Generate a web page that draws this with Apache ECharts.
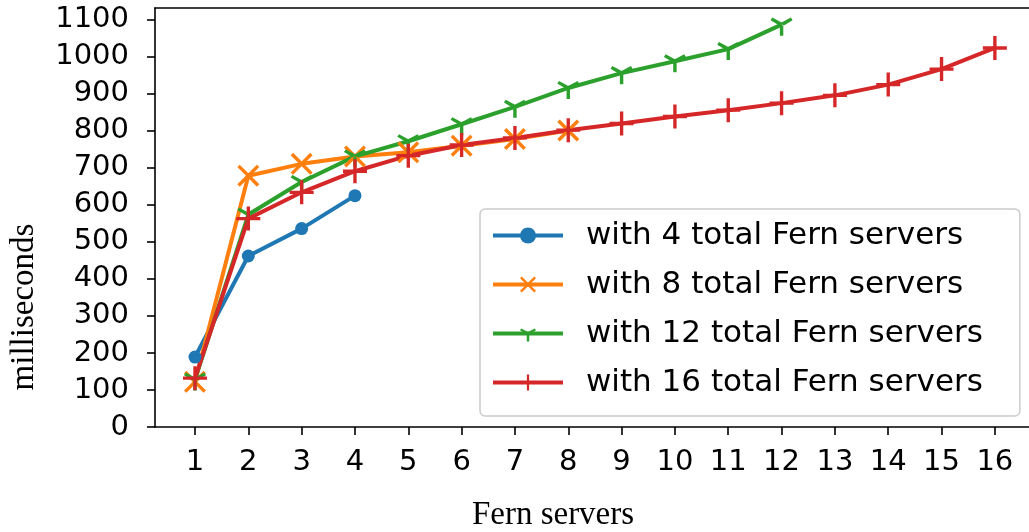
<!DOCTYPE html>
<html>
<head>
<meta charset="utf-8">
<title>Fern servers latency</title>
<script src="https://cdn.jsdelivr.net/npm/echarts@6.0.0/dist/echarts.min.js"></script>
<style>
	html, body { margin: 0; padding: 0; background: #fff; }
	#mainChart { width: 1029px; height: 532px; }
</style>
</head>
<body>
<div id="mainChart"></div>
<script>
// x 轴: Fern 服务器数量
var xTicks = [1, 2, 3, 4, 5, 6, 7, 8, 9, 10, 11, 12, 13, 14, 15, 16];
// y 轴刻度
var yTicks = [0, 100, 200, 300, 400, 500, 600, 700, 800, 900, 1000, 1100];

// 各系列的毫秒值
var with4 = [189, 462, 536, 625];
var with8 = [122, 679, 711, 731, 742, 760, 778, 801];
var with12 = [128, 574, 662, 731, 772, 818, 865, 916, 956, 988, 1021, 1087];
var with16 = [132, 563, 634, 691, 733, 762, 781, 802, 820, 839, 856, 875, 896, 925, 967, 1024];

var seriesNames = [
	'with 4 total Fern servers',
	'with 8 total Fern servers',
	'with 12 total Fern servers',
	'with 16 total Fern servers'
];

// 标记形状
var SYM_X = 'path://M0,11L11,0L100,89L89,100ZM89,0L100,11L11,100L0,89Z';
var SYM_PLUS = 'path://M43,0H57V43H100V57H57V100H43V57H0V43H43Z';
// tri_down, 顶部加一个极小三角使中心对齐
var SYM_TRI = 'path://M50,0L50.2,0L50,0.2Z' +
	'M43,50L57,50L57,100L43,100Z' +
	'M56,44L12,18L5,30L44,56Z' +
	'M44,44L56,56L95,30L88,18Z';

function toPairs(values) {
	var out = [];
	for (var i = 0; i < values.length; i++) {
		out.push([xTicks[i], values[i]]);
	}
	return out;
}

function makeSeries(name, values, color, symbol, size) {
	return {
		name: name,
		type: 'line',
		data: toPairs(values),
		symbol: symbol,
		symbolSize: size,
		showSymbol: true,
		lineStyle: { color: color, width: 4 },
		itemStyle: { color: color, borderWidth: 0 },
		emphasis: { disabled: true }
	};
}

var myChart = echarts.init(document.getElementById('mainChart'));

var tickFont = {
	color: '#000',
	fontFamily: 'DejaVu Sans',
	fontSize: 29
};
var blackLine = { color: '#000', width: 1.6 };

var option = {
	animation: false,
	backgroundColor: '#ffffff',
	grid: {
		left: 155,
		top: 8,
		right: 0,
		height: 419,
		containLabel: false
	},
	xAxis: [
		{
			type: 'value',
			min: 0.25,
			max: 16.64,
			axisLine: { lineStyle: blackLine },
			axisTick: { customValues: xTicks, length: 8, lineStyle: blackLine },
			axisLabel: Object.assign({ customValues: xTicks, margin: 21 }, tickFont),
			splitLine: { show: false }
		},
		{
			// 上边框
			type: 'value',
			position: 'top',
			min: 0.25,
			max: 16.64,
			axisLine: { show: true, lineStyle: blackLine },
			axisTick: { show: false },
			axisLabel: { show: false },
			splitLine: { show: false }
		}
	],
	yAxis: {
		type: 'value',
		min: 0,
		max: 1132,
		axisLine: { show: true, lineStyle: blackLine },
		axisTick: { show: true, customValues: yTicks, length: 8, lineStyle: blackLine },
		axisLabel: Object.assign({
			customValues: yTicks,
			margin: 26,
			formatter: function(v) { return String(v); }
		}, tickFont),
		splitLine: { show: false }
	},
	legend: {
		orient: 'vertical',
		left: 480,
		top: 209,
		padding: [11, 37, 18, 11],
		itemWidth: 70,
		itemHeight: 20,
		itemGap: 18,
		backgroundColor: 'rgba(255,255,255,0.8)',
		borderColor: '#cccccc',
		borderWidth: 1.5,
		borderRadius: 5,
		selectedMode: false,
		lineStyle: { width: 4 },
		textStyle: {
			color: '#000',
			fontFamily: 'DejaVu Sans',
			fontSize: 31,
			lineHeight: 30,
			padding: [0, 0, 0, 18]
		},
		data: seriesNames
	},
	graphic: [
		{
			type: 'text',
			x: 553,
			y: 515,
			style: {
				text: 'Fern servers',
				font: '33px "Liberation Serif"',
				fill: '#000',
				textAlign: 'center',
				textVerticalAlign: 'middle'
			}
		},
		{
			type: 'text',
			x: 24,
			y: 307,
			rotation: Math.PI / 2,
			style: {
				text: 'milliseconds',
				font: '33px "Liberation Serif"',
				fill: '#000',
				textAlign: 'center',
				textVerticalAlign: 'middle'
			}
		}
	],
	series: [
		makeSeries(seriesNames[0], with4, '#1f77b4', 'circle', 13),
		makeSeries(seriesNames[1], with8, '#ff7f0e', SYM_X, 22),
		makeSeries(seriesNames[2], with12, '#2ca02c', SYM_TRI, 22),
		makeSeries(seriesNames[3], with16, '#d62728', SYM_PLUS, 24)
	]
};

myChart.setOption(option);
</script>
</body>
</html>
